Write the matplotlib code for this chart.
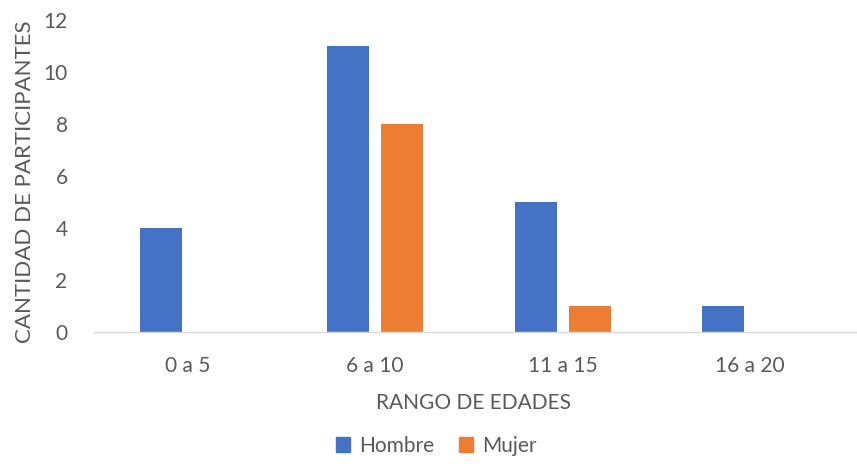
import numpy as np
import matplotlib.pyplot as plt
from matplotlib.patches import Patch

# --------------------------------------------------------------------------------------------------
# DATA:
rangos = ["0 a 5", "6 a 10", "11 a 15", "16 a 20"]
hombre = [4, 11, 5, 1]
mujer = [0, 8, 1, 0]
y_ticks = [0, 2, 4, 6, 8, 10, 12]

# --------------------------------------------------------------------------------------------------
# STYLE:
AZUL = "#4472C4"
NARANJA = "#ED7D31"
GRIS_TEXTO = "#595959"
plt.rcParams["font.family"] = ["Lato", "DejaVu Sans"]

fig = plt.figure(figsize=(8.57, 4.70), dpi=100)
ax = fig.add_axes([94 / 857, 1 - 332 / 470, 750 / 857, 312 / 470])

x = np.arange(len(rangos))
ancho = 0.225
desfase = 0.144

ax.bar(x - desfase, hombre, width=ancho, color=AZUL, label="Hombre")
ax.bar(x + desfase, mujer, width=ancho, color=NARANJA, label="Mujer")

# Axes: only a light baseline, no grid, no ticks
ax.set_xlim(-0.5, len(rangos) - 0.5)
ax.set_ylim(0, 12)
ax.set_yticks(y_ticks)
ax.set_xticks(x)
ax.set_xticklabels(rangos)
for side in ["top", "right", "left", "bottom"]:
    ax.spines[side].set_visible(False)
# baseline runs a little past the last category, to the edge of the figure
ax.axhline(0, xmin=0, xmax=763 / 750, color="#D9D9D9", linewidth=1.0, clip_on=False)
ax.tick_params(axis="both", length=0, labelsize=15, labelcolor=GRIS_TEXTO)
ax.tick_params(axis="y", pad=19)
ax.tick_params(axis="x", pad=17)

fig.text(25 / 857, 1 - 182 / 470, "CANTIDAD DE PARTICIPANTES", rotation=90,
         ha="center", va="center", fontsize=16, color=GRIS_TEXTO)
fig.text(473 / 857, 1 - 403 / 470, "RANGO DE EDADES",
         ha="center", va="center", fontsize=15, color=GRIS_TEXTO)

# Legend below the axis title
handles = [Patch(color=AZUL, label="Hombre"), Patch(color=NARANJA, label="Mujer")]
fig.legend(handles=handles, loc="center", bbox_to_anchor=(436 / 857, 1 - 446 / 470),
           ncol=2, frameon=False, fontsize=15, labelcolor=GRIS_TEXTO,
           handlelength=0.7, handleheight=0.7, handletextpad=0.4, columnspacing=1.2)

fig.savefig("out.png", dpi=100, facecolor="white")
